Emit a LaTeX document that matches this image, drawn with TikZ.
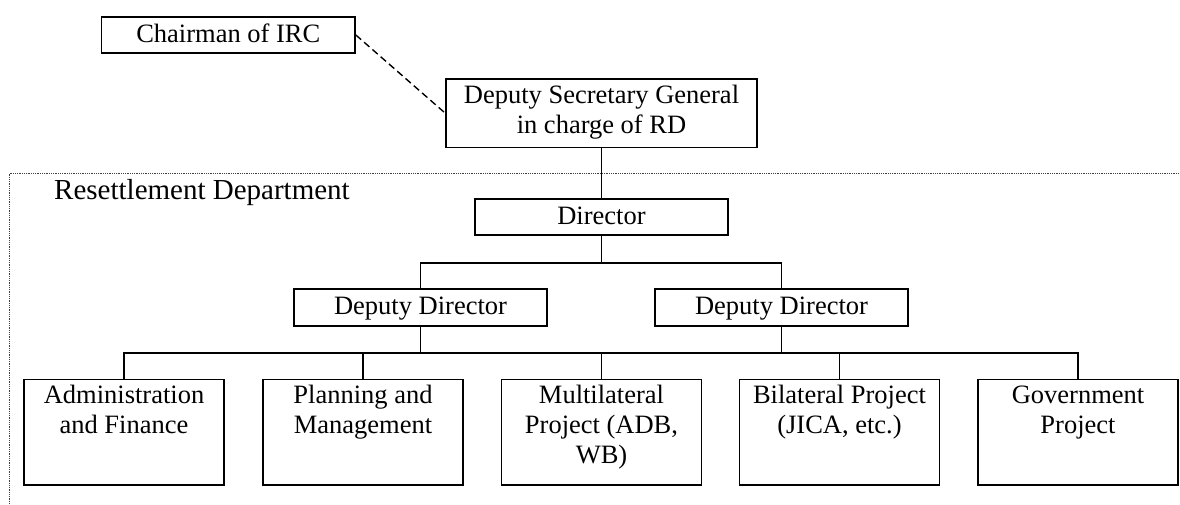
\documentclass[tikz,border=0pt]{standalone}
\usepackage{fontspec}
\setmainfont{Liberation Serif}
\usetikzlibrary{calc}

% text block pinned to the top of a box: height, width, first baseline, lines
\newcommand\toptext[4]{\parbox[c][#1][t]{#2}{\centering\rule{0pt}{#3}#4}}

\begin{document}
\begin{tikzpicture}[x=1pt,y=-1pt,
  boxtext/.style={font=\fontsize{26.5}{30}\selectfont},
  unitbox/.style={boxtext, draw, line width=1.7pt, inner sep=0pt, align=center},
  onelinebox/.style={unitbox, text height=18.5pt, text depth=4pt},
  link/.style={line width=1.2pt, line join=miter},
  advisory/.style={line width=1.4pt, dash pattern=on 7pt off 4pt},
  deptframe/.style={black!75, line width=1pt, dash pattern=on 1pt off 0.8pt}
]
\useasboundingbox (0,0) rectangle (1180,504);

% department frame (runs off the page to the right and bottom)
\draw[deptframe] (9,504) -- (9,173.5) -- (1180,173.5);
\node[font=\fontsize{29}{34}\selectfont, anchor=base west, inner sep=0pt]
  (dept) at (54,199) {Resettlement Department};

% top management
\node[onelinebox, minimum width=253.5pt, minimum height=36pt]
  (ch) at (228.25,35) {Chairman of IRC};
\node[unitbox, anchor=north, minimum width=311pt, minimum height=68.5pt]
  (dsg) at (601.5,78)
  {\toptext{68.5pt}{305pt}{25pt}{Deputy Secretary General\\in charge of RD}};

% department management
\node[onelinebox, minimum width=253pt, minimum height=36pt]
  (dir) at (601.5,217) {Director};
\node[onelinebox, minimum width=253pt, minimum height=37pt]
  (dd1) at (420.5,307.5) {Deputy Director};
\node[onelinebox, minimum width=253pt, minimum height=37pt]
  (dd2) at (781.5,307.5) {Deputy Director};

% divisions
\tikzset{division/.style={unitbox, anchor=north, minimum width=200pt, minimum height=105.5pt}}
\node[division] (u1) at (124,378.5)
  {\toptext{105.5pt}{196pt}{24.5pt}{Administration\\and Finance}};
\node[division] (u2) at (363,378.5)
  {\toptext{105.5pt}{196pt}{24.5pt}{Planning and\\Management}};
\node[division] (u3) at (601.5,378.5)
  {\toptext{105.5pt}{196pt}{24.5pt}{Multilateral\\Project (ADB,\\WB)}};
\node[division] (u4) at (839.5,378.5)
  {\toptext{105.5pt}{196pt}{24.5pt}{Bilateral Project\\(JICA, etc.)}};
\node[division] (u5) at (1078,378.5)
  {\toptext{105.5pt}{196pt}{24.5pt}{Government\\Project}};

% bus levels
\coordinate (busA) at (0,263);
\coordinate (busB) at (0,353);

% connectors
\draw[advisory] (ch.east) -- (dsg.west);
\draw[link] (dsg.south) -- (dir.north);
\draw[link] (dir.south) -- (dir.south |- busA);
\draw[link] (dd1.north) -- (dd1.north |- busA) -- (dd2.north |- busA) -- (dd2.north);
\draw[link] (dd1.south) -- (dd1.south |- busB);
\draw[link, line width=1.7pt] (dd2.south) -- (dd2.south |- busB);
\draw[link] (u1.north) -- (u1.north |- busB) -- (u5.north |- busB) -- (u5.north);
\draw[link] (u2.north) -- (u2.north |- busB);
\draw[link] (u3.north) -- (u3.north |- busB);
\draw[link] (u4.north) -- (u4.north |- busB);
\end{tikzpicture}
\end{document}
